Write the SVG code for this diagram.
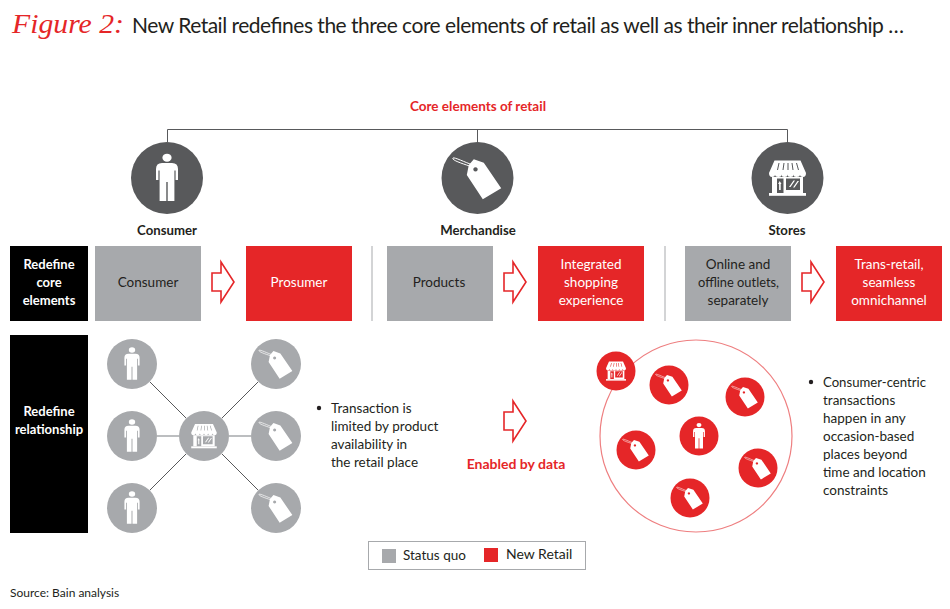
<svg xmlns="http://www.w3.org/2000/svg" xmlns:xlink="http://www.w3.org/1999/xlink" width="950" height="609" viewBox="0 0 950 609">
<style>
text{font-family:"Lato","Noto Sans",sans-serif;font-size:13.500px;fill:#231f20}
.c{text-anchor:middle}
.b{font-weight:700;font-size:13.200px}
.wt{fill:#fff}
.red{fill:#e52628}
.bx{fill:#a7a9ac}
.rd{fill:#e52628}
.ar{fill:#fff;stroke:#e52628;stroke-width:1.600}
.dk{fill:#58595b}
.gr{fill:#a7a9ac}
.sep{stroke:#a7a9ac;stroke-width:1;fill:none}
</style>
<defs>
<g id="person" fill="#fff">
<ellipse cx="0" cy="-20.3" rx="4.6" ry="4"/>
<path d="M-5-15H5Q11-15 11-9V2H8.6V-7.5H7.4V23H.7V4H-.7V23H-7.4V-7.5H-8.6V2H-11V-9Q-11-15-5-15Z"/>
</g>
<g id="tag">
<path fill="#fff" fill-rule="evenodd" d="M-8.7-13L-3.7-18.7L6.3-15.3L23.7 10.3L5.3 21.3L-10.7-3ZM-2-10.8a2.2 2.2 0 1 0 .01 0Z"/>
<path fill="none" stroke="#fff" stroke-width="1" d="M-6-13.5C-12-15.5-23-21-24.5-20C-26-18-17-15-8-12"/>
</g>
<g id="store" fill="#fff">
<path fill-rule="evenodd" d="M-13-17.5H13L18.5-5Q18.5-1 15.5-1Q12.5-1 12.5-3.5Q12.5-1 9-1Q6-1 6-3.5Q6-1 3-1Q0-1 0-3.5Q0-1-3-1Q-6-1-6-3.5Q-6-1-9-1Q-12.5-1-12.5-3.5Q-12.5-1-15.5-1Q-18.5-1-18.5-5ZM-9-15L-10.5-8H-9.5L-8-15ZM-4-15L-5-8H-4L-3-15ZM0-15V-8H1V-15ZM4-15L5-8H6L5-15ZM8.5-15L10.5-8H11.5L9.5-15Z"/>
<path fill-rule="evenodd" d="M-15.5-1H15.5V15H-15.5ZM-10.5 0.5V15H-4V0.5ZM-1.5 0.5V12H12.5V0.5Z"/>
<path d="M-7.8 3L-6 6H-6.8V12H-8.4V6H-9.4ZM1.5 9L6 2.5H7.500L3 9ZM5.500 9.500L10 3H11.500L7 9.500Z"/>
<rect x="-18.5" y="15" width="37" height="2.8"/>
</g>
<path id="arrow" class="ar" d="M0-9H9V-20L22 0L9 20V9H0Z"/>
</defs>

<g id="title">
<text x="12" y="33" style="font-family:'Liberation Serif',serif;font-style:italic;font-size:27px;fill:#e52628" textLength="112" lengthAdjust="spacingAndGlyphs">Figure 2:</text>
<text x="132" y="33" style="font-size:21px" textLength="772" lengthAdjust="spacing">New Retail redefines the three core elements of retail as well as their inner relationship …</text>
</g>

<g id="connectors">
<path d="M167.500 142V129.500H787.500V142M477.500 129.500V142" fill="none" stroke="#58595b" stroke-width="1"/>
<path class="sep" d="M372 246V321M665 246V321"/>
<path d="M150 382L186 418M150 490L186 454M222 418L258 382M222 454L258 490" fill="none" stroke="#58595b" stroke-width="1"/>
<path d="M157 436H179M229 436H251" fill="none" stroke="#bcbec0" stroke-width="2"/>
</g>

<text class="c" x="478" y="111" style="font-size:13.500px;font-weight:700;fill:#e52628">Core elements of retail</text>

<g id="consumer-head">
<circle cx="167" cy="178" r="36" class="dk"/>
<use xlink:href="#person" href="#person" transform="translate(167 178)"/>
<text class="c b" x="167" y="235">Consumer</text>
</g>
<g id="merchandise-head">
<circle cx="477.500" cy="178" r="36" class="dk"/>
<use xlink:href="#tag" href="#tag" transform="translate(477.500 178)"/>
<text class="c b" x="478" y="235">Merchandise</text>
</g>
<g id="stores-head">
<circle cx="787.500" cy="178" r="36" class="dk"/>
<use xlink:href="#store" href="#store" transform="translate(787.500 178)"/>
<text class="c b" x="787" y="235">Stores</text>
</g>

<g id="row-redefine-core">
<rect x="10" y="246" width="78" height="75" fill="#000"/>
<text class="c b wt" x="49" y="269" style="font-size:13px">Redefine</text>
<text class="c b wt" x="49" y="287" style="font-size:13px">core</text>
<text class="c b wt" x="49" y="305" style="font-size:13px">elements</text>
</g>
<g id="box-consumer"><rect x="95" y="246" width="106" height="75" class="bx"/><text class="c" x="148" y="287">Consumer</text></g>
<g id="box-prosumer"><rect x="246" y="246" width="106" height="75" class="rd"/><text class="c wt" x="299" y="287">Prosumer</text></g>
<g id="box-products"><rect x="387" y="246" width="106" height="75" class="bx"/><text class="c" x="439" y="287">Products</text></g>
<g id="box-integrated"><rect x="538" y="246" width="106" height="75" class="rd"/>
<text class="c wt" x="591" y="269">Integrated</text><text class="c wt" x="591" y="287">shopping</text><text class="c wt" x="591" y="305">experience</text></g>
<g id="box-online"><rect x="685" y="246" width="106" height="75" class="bx"/>
<text class="c" x="738" y="269">Online and</text><text class="c" x="738.500" y="287" textLength="81" lengthAdjust="spacingAndGlyphs">offline outlets,</text><text class="c" x="738" y="305">separately</text></g>
<g id="box-trans"><rect x="836" y="246" width="106" height="75" class="rd"/>
<text class="c wt" x="889" y="269">Trans-retail,</text><text class="c wt" x="889" y="287">seamless</text><text class="c wt" x="889" y="305">omnichannel</text></g>
<use xlink:href="#arrow" href="#arrow" transform="translate(212 282)"/>
<use xlink:href="#arrow" href="#arrow" transform="translate(504 282)"/>
<use xlink:href="#arrow" href="#arrow" transform="translate(802 282)"/>

<g id="row-redefine-rel">
<rect x="10" y="335" width="78" height="198" fill="#000"/>
<text class="c b wt" x="49" y="416" style="font-size:13px">Redefine</text>
<text class="c b wt" x="49" y="434" style="font-size:13px">relationship</text>
</g>

<g id="status-quo-nodes">
<g id="sq-p1"><circle cx="132" cy="364" r="25" class="gr"/><use xlink:href="#person" href="#person" transform="translate(132 364) scale(.69)"/></g>
<g id="sq-p2"><circle cx="132" cy="436" r="25" class="gr"/><use xlink:href="#person" href="#person" transform="translate(132 436) scale(.69)"/></g>
<g id="sq-p3"><circle cx="132" cy="508" r="25" class="gr"/><use xlink:href="#person" href="#person" transform="translate(132 508) scale(.69)"/></g>
<g id="sq-store"><circle cx="204" cy="436" r="25" class="gr"/><use xlink:href="#store" href="#store" transform="translate(204 436) scale(.69)"/></g>
<g id="sq-t1"><circle cx="276" cy="364" r="25" class="gr"/><use xlink:href="#tag" href="#tag" transform="translate(276 364) scale(.69)"/></g>
<g id="sq-t2"><circle cx="276" cy="436" r="25" class="gr"/><use xlink:href="#tag" href="#tag" transform="translate(276 436) scale(.69)"/></g>
<g id="sq-t3"><circle cx="276" cy="508" r="25" class="gr"/><use xlink:href="#tag" href="#tag" transform="translate(276 508) scale(.69)"/></g>
</g>

<g id="note-status-quo">
<circle cx="319" cy="408" r="2.200" fill="#231f20"/>
<text x="331" y="413">Transaction is</text>
<text x="331" y="431">limited by product</text>
<text x="331" y="449">availability in</text>
<text x="331" y="467">the retail place</text>
</g>

<g id="enabled">
<use xlink:href="#arrow" href="#arrow" transform="translate(504 421)"/>
<text class="c" x="516" y="469" style="font-size:14px;font-weight:700;fill:#e52628">Enabled by data</text>
</g>

<g id="new-retail-nodes">
<circle cx="696" cy="436" r="96" fill="none" stroke="#ee7f80" stroke-width="1.200"/>
<g id="nr-store"><circle cx="616" cy="371" r="19.500" class="rd"/><use xlink:href="#store" href="#store" transform="translate(616 371) scale(.54)"/></g>
<g id="nr-t1"><circle cx="669" cy="385" r="19.500" class="rd"/><use xlink:href="#tag" href="#tag" transform="translate(669 385) scale(.54)"/></g>
<g id="nr-t2"><circle cx="745" cy="397" r="19.500" class="rd"/><use xlink:href="#tag" href="#tag" transform="translate(745 397) scale(.54)"/></g>
<g id="nr-t3"><circle cx="636" cy="450" r="19.500" class="rd"/><use xlink:href="#tag" href="#tag" transform="translate(636 450) scale(.54)"/></g>
<g id="nr-p"><circle cx="699" cy="436" r="19.500" class="rd"/><use xlink:href="#person" href="#person" transform="translate(699 436) scale(.54)"/></g>
<g id="nr-t4"><circle cx="758" cy="468" r="19.500" class="rd"/><use xlink:href="#tag" href="#tag" transform="translate(758 468) scale(.54)"/></g>
<g id="nr-t5"><circle cx="690" cy="498" r="19.500" class="rd"/><use xlink:href="#tag" href="#tag" transform="translate(690 498) scale(.54)"/></g>
</g>

<g id="note-new-retail">
<circle cx="811" cy="382" r="2.200" fill="#231f20"/>
<text x="823" y="387" textLength="103" lengthAdjust="spacingAndGlyphs">Consumer-centric</text>
<text x="823" y="405">transactions</text>
<text x="823" y="423">happen in any</text>
<text x="823" y="441">occasion-based</text>
<text x="823" y="459">places beyond</text>
<text x="823" y="477">time and location</text>
<text x="823" y="495">constraints</text>
</g>

<g id="legend">
<rect x="368.500" y="541.500" width="217" height="28" fill="#fff" stroke="#a7a9ac" stroke-width="1"/>
<rect x="382" y="549" width="14" height="14" class="bx"/>
<text x="403" y="560">Status quo</text>
<rect x="484" y="548" width="14" height="14" class="rd"/>
<text x="506" y="559" style="font-size:14px">New Retail</text>
</g>

<text id="source" x="10" y="597" style="font-size:12px">Source: Bain analysis</text>
</svg>
